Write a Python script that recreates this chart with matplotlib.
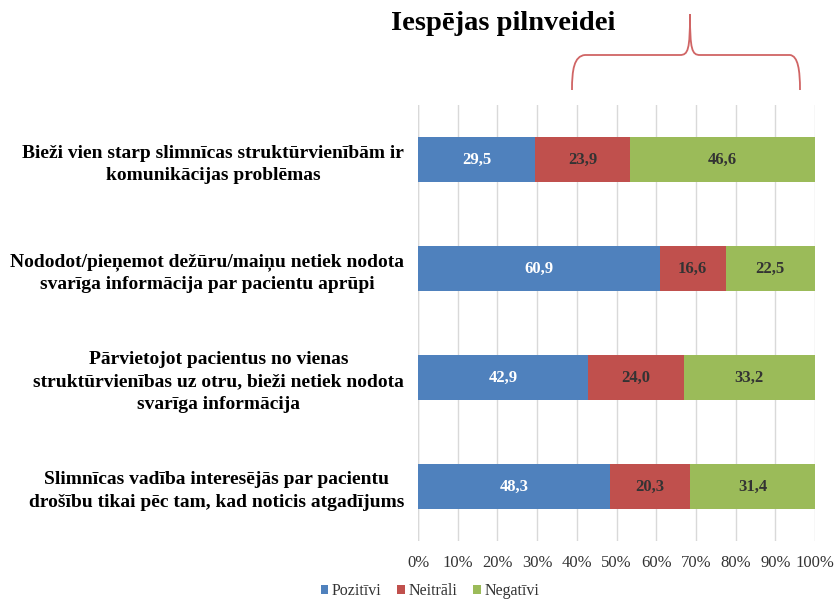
import numpy as np
import matplotlib.pyplot as plt
from matplotlib.path import Path
from matplotlib.patches import PathPatch

# data
categories = [
    'Bieži vien starp slimnīcas struktūrvienībām ir\nkomunikācijas problēmas',
    'Nododot/pieņemot dežūru/maiņu netiek nodota\nsvarīga informācija par pacientu aprūpi',
    'Pārvietojot pacientus no vienas\nstruktūrvienības uz otru, bieži netiek nodota\nsvarīga informācija',
    'Slimnīcas vadība interesējās par pacientu\ndrošību tikai pēc tam, kad noticis atgadījums',
]
pozitivi = [29.5, 60.9, 42.9, 48.3]
neitrali = [23.9, 16.6, 24.0, 20.3]
negativi = [46.6, 22.5, 33.2, 31.4]
series_names = ['Pozitīvi', 'Neitrāli', 'Negatīvi']
colors = ['#4F81BD', '#C0504D', '#9BBB59']
label_colors = ['white', '#333333', '#333333']

plt.rcParams['font.family'] = 'Liberation Serif'
plt.rcParams['font.size'] = 12

fig = plt.figure(figsize=(8.35, 6.02), dpi=100)
ax = fig.add_axes([418/835, 1-541/602, 397/835, 436/602])

y = np.arange(len(categories))
left = np.zeros(len(categories))
for vals, name, c, lc in zip([pozitivi, neitrali, negativi], series_names, colors, label_colors):
    bars = ax.barh(y, vals, left=left, height=0.41, color=c, label=name, zorder=3)
    ax.bar_label(bars, labels=[f'{v:.1f}'.replace('.', ',') for v in vals],
                 label_type='center', color=lc, fontweight='bold', fontsize=12)
    left += np.array(vals)

ax.set_xlim(0, 100)
ax.set_ylim(3.5, -0.5)
ax.set_xticks(np.arange(0, 101, 10))
ax.set_xticklabels([f'{t}%' for t in range(0, 101, 10)], fontsize=12, color='#333333')
ax.set_yticks(y)
ax.set_yticklabels(categories, fontweight='bold', fontsize=14, ha='right',
                   multialignment='center', linespacing=1.4)
ax.tick_params(axis='y', length=0, pad=10)
ax.tick_params(axis='x', length=0, pad=10)
ax.grid(axis='x', color='#D9D9D9', linewidth=1, zorder=0)
for s in ax.spines.values():
    s.set_visible(False)
ax.axvline(0, color='#D9D9D9', linewidth=1, zorder=1)

ax.legend(loc='center', bbox_to_anchor=(430/835, 1-591/602), bbox_transform=fig.transFigure,
          ncol=3, frameon=False, fontsize=11.5, handlelength=0.5, handleheight=0.5,
          handletextpad=0.2, columnspacing=1.0, labelcolor='#333333')

fig.text(503/835, 1-23/602, 'Iespējas pilnveidei', ha='center', va='center',
         fontsize=20.5, fontweight='bold')

# curly brace above the plot (figure pixel coordinates)
def fp(px, py):
    return (px/835, 1-py/602)

verts = [fp(572, 90), fp(572, 70), fp(574, 56), fp(585, 55),
         fp(680, 55),
         fp(688, 55), fp(690, 50), fp(690, 14),
         fp(690, 50), fp(692, 55), fp(700, 55),
         fp(790, 55),
         fp(798, 56), fp(800, 70), fp(800, 90)]
codes = [Path.MOVETO, Path.CURVE4, Path.CURVE4, Path.CURVE4,
         Path.LINETO,
         Path.CURVE4, Path.CURVE4, Path.CURVE4,
         Path.CURVE4, Path.CURVE4, Path.CURVE4,
         Path.LINETO,
         Path.CURVE4, Path.CURVE4, Path.CURVE4]
fig.patches.append(PathPatch(Path(verts, codes), transform=fig.transFigure,
                             facecolor='none', edgecolor='#D06565', linewidth=1.3))

fig.savefig('out.png', dpi=100)
